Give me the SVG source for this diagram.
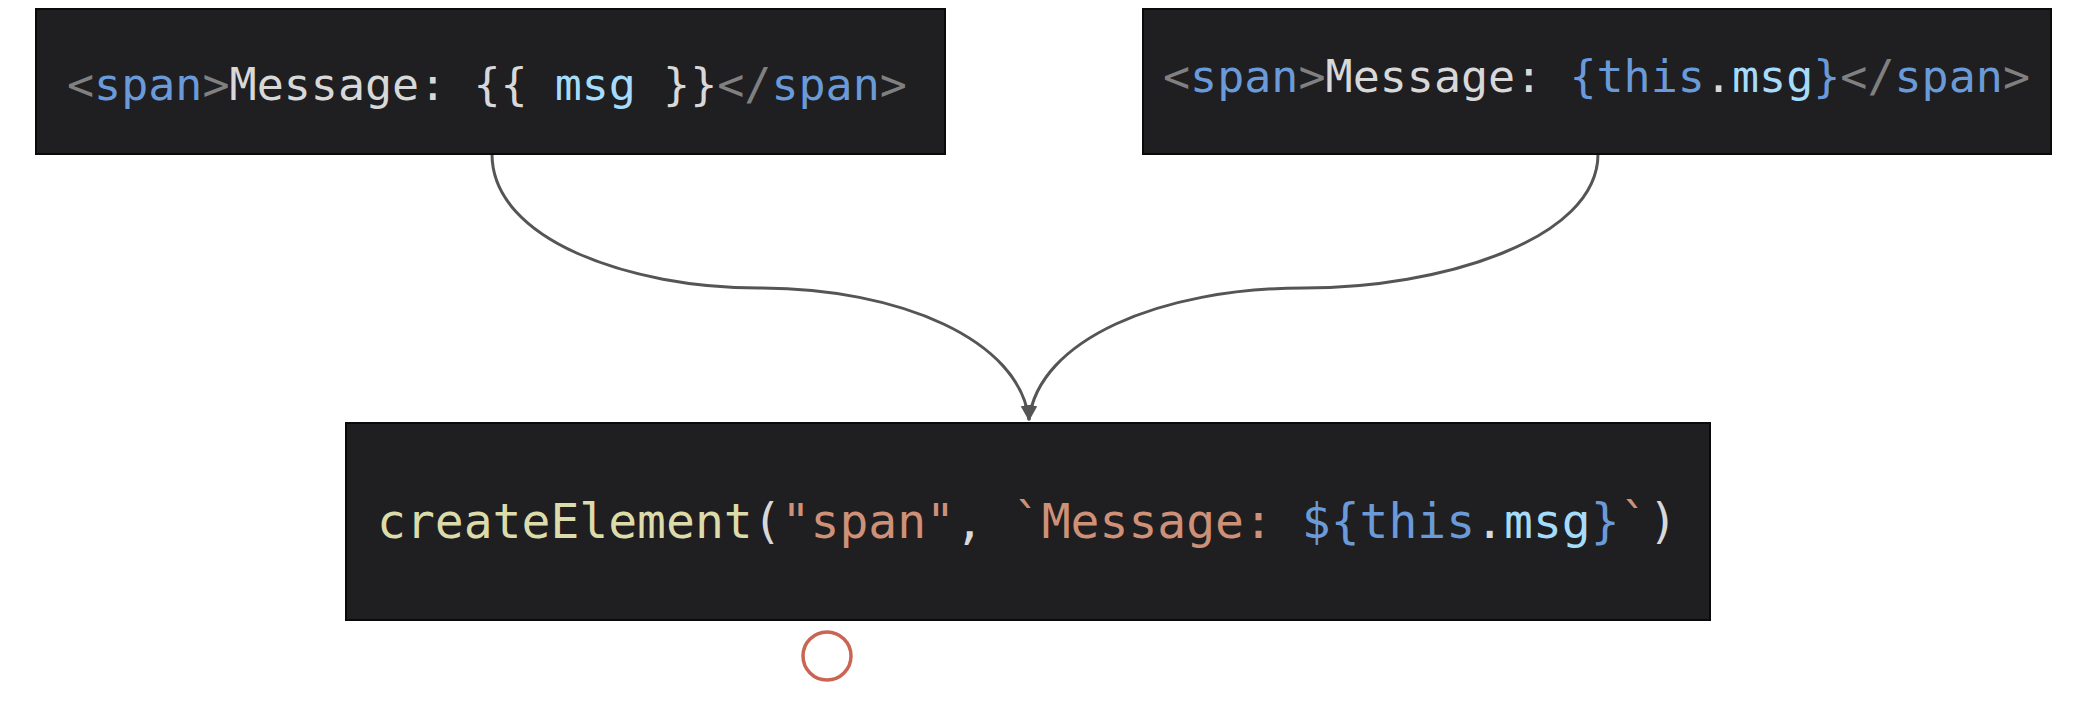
<svg xmlns="http://www.w3.org/2000/svg" width="2087" height="720" viewBox="0 0 2087 720">
<style>
.box{fill:#1f1e21;stroke:#0a0a0a;stroke-width:2}
.code{font-family:"DejaVu Sans Mono","Liberation Mono",monospace;white-space:pre}
.p{fill:#808080}.t{fill:#6a9bd8}.w{fill:#d8d8d8}.v{fill:#a6dcfb}.f{fill:#dcdcaa}.s{fill:#ce9178}
.conn{fill:none;stroke:#555;stroke-width:3}
</style>
<defs>
<marker id="arrow" viewBox="0 0 12 12" refX="11" refY="6" markerWidth="16" markerHeight="16" orient="auto" markerUnits="userSpaceOnUse">
<path d="M0,1 L12,6 L0,11 z" fill="#555"/>
</marker>
</defs>
<g id="connectors">
<path class="conn" d="M492,154 C492,240 630,288 759,288 C900,288 1020,340 1029,420" marker-end="url(#arrow)"/>
<path class="conn" d="M1598,154 C1598,240 1440,288 1304,288 C1160,288 1038,340 1029,420" marker-end="url(#arrow)"/>
</g>
<g id="node-template">
<rect class="box" x="36" y="9" width="909" height="145"/>
<text class="code" x="67" y="100" font-size="45"><tspan class="p">&lt;</tspan><tspan class="t">span</tspan><tspan class="p">&gt;</tspan><tspan class="w">Message: {{ </tspan><tspan class="v">msg</tspan><tspan class="w"> }}</tspan><tspan class="p">&lt;/</tspan><tspan class="t">span</tspan><tspan class="p">&gt;</tspan></text>
</g>
<g id="node-jsx">
<rect class="box" x="1143" y="9" width="908" height="145"/>
<text class="code" x="1163" y="92" font-size="45"><tspan class="p">&lt;</tspan><tspan class="t">span</tspan><tspan class="p">&gt;</tspan><tspan class="w">Message: </tspan><tspan class="t">{this</tspan><tspan class="w">.</tspan><tspan class="v">msg</tspan><tspan class="t">}</tspan><tspan class="p">&lt;/</tspan><tspan class="t">span</tspan><tspan class="p">&gt;</tspan></text>
</g>
<g id="node-render">
<rect class="box" x="346" y="423" width="1364" height="197"/>
<text class="code" x="377" y="538" font-size="48"><tspan class="f">createElement</tspan><tspan class="w">(</tspan><tspan class="s">"span"</tspan><tspan class="w">, </tspan><tspan class="s">`Message: </tspan><tspan class="t">${this</tspan><tspan class="w">.</tspan><tspan class="v">msg</tspan><tspan class="t">}</tspan><tspan class="s">`</tspan><tspan class="w">)</tspan></text>
</g>
<g id="cursor">
<circle cx="827" cy="656" r="24" fill="none" stroke="#c96552" stroke-width="3.5"/>
</g>
</svg>
